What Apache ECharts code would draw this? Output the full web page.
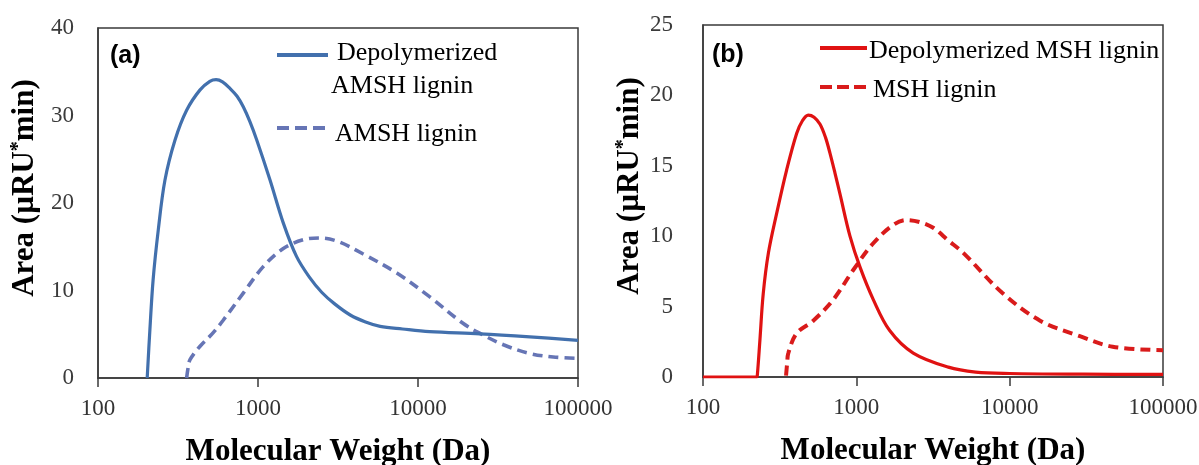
<!DOCTYPE html>
<html>
<head>
<meta charset="utf-8">
<script src="https://cdn.jsdelivr.net/npm/echarts@6/dist/echarts.min.js"></script>
<style>
  html, body { margin: 0; padding: 0; background: #fff; }
  #chart { width: 1199px; height: 465px; }
</style>
</head>
<body>
<div id="chart"></div>
<script>
// ---- Data ----
var xTickLabels = ['100', '1000', '10000', '100000'];
var yTicksA = [0, 10, 20, 30, 40];
var yTicksB = [0, 5, 10, 15, 20, 25];

// Panel (a): [molecular weight (Da), area]
var depolyAMSH = [
  [203, 0], [211, 5.5], [221, 11.2], [238, 16.9], [262, 22.6], [303, 27.2],
  [358, 30.6], [433, 32.9], [500, 33.9], [547, 34.1], [600, 33.85], [668, 33.1],
  [740, 32.2], [809, 31.0], [890, 29.3], [982, 27.2], [1190, 22.6], [1440, 17.7],
  [1740, 13.9], [2100, 11.5], [2500, 9.8], [3000, 8.5], [3770, 7.2], [4700, 6.4],
  [5800, 5.9], [8000, 5.6], [11800, 5.3], [24400, 5.05], [50000, 4.7], [100000, 4.3]
];
var amsh = [
  [358, 0], [366, 1.2], [376, 2.1], [433, 3.6], [520, 5.1], [606, 6.6], [809, 9.7],
  [1075, 12.7], [1440, 14.8], [1920, 15.8], [2440, 16.0], [3160, 15.6], [4520, 14.2],
  [7370, 12.0], [11800, 9.3], [19100, 6.25], [24400, 5.1], [34200, 3.8],
  [50000, 2.8], [70000, 2.4], [100000, 2.25]
];

// Panel (b)
var depolyMSH = [
  [100, 0], [224, 0], [226, 0.1], [235, 2.6], [247, 5.9], [267, 8.8], [302, 11.6],
  [351, 14.7], [408, 17.3], [445, 18.2], [486, 18.6], [530, 18.45], [580, 17.95],
  [630, 17.0], [673, 15.9], [725, 14.5], [782, 13.0], [909, 10.0], [1057, 7.8],
  [1290, 5.5], [1650, 3.3], [2350, 1.7], [3980, 0.7], [6000, 0.35], [10000, 0.25],
  [30000, 0.2], [100000, 0.18]
];
var msh = [
  [348, 0.1], [354, 1.0], [360, 1.7], [408, 3.1], [524, 4.0], [708, 5.5], [955, 7.6],
  [1290, 9.5], [1740, 10.8], [2120, 11.15], [2600, 11.0], [3170, 10.6], [3980, 9.7],
  [5000, 8.8], [8900, 6.0], [15800, 4.0], [28700, 2.9], [47000, 2.15], [100000, 1.9]
];

var seriesNames = ['Depolymerized AMSH lignin', 'AMSH lignin', 'Depolymerized MSH lignin', 'MSH lignin'];

// ---- Styles ----
var SERIF = '"Liberation Serif", "Times New Roman", serif';
var blueSolid = '#4270ad';
var blueDash = '#6675b5';
var redSolid = '#e01212';
var redDash = '#d91b1b';

function xAxisCfg(gridIndex) {
  return {
    type: 'log', logBase: 10, min: 100, max: 100000, gridIndex: gridIndex,
    axisLine: { show: true, lineStyle: { color: '#3a3a3a', width: 1.5 } },
    axisTick: { show: true, inside: false, length: 9, lineStyle: { color: '#3a3a3a', width: 1.5 } },
    minorTick: { show: false },
    splitLine: { show: false },
    axisLabel: {
      margin: 19, fontFamily: SERIF, fontSize: 23, color: '#333',
      formatter: function (v) {
        var i = Math.round(Math.log10(v)) - 2;
        return xTickLabels[i] !== undefined ? xTickLabels[i] : '';
      }
    },
    name: 'Molecular Weight (Da)', nameLocation: 'middle', nameGap: 58,
    nameTextStyle: { fontFamily: SERIF, fontWeight: 'bold', fontSize: 31, color: '#000' }
  };
}
function yAxisCfg(gridIndex, max, interval, ticks, margin) {
  return {
    type: 'value', min: 0, max: max, interval: interval, gridIndex: gridIndex,
    axisLine: { show: true, lineStyle: { color: '#3a3a3a', width: 1.5 } },
    axisTick: { show: false },
    splitLine: { show: false },
    axisLabel: {
      margin: margin, fontFamily: SERIF, fontSize: 23, color: '#3a3a3a',
      formatter: function (v) { return ticks.indexOf(v) >= 0 ? String(v) : ''; }
    },
    name: '{t|Area (µRU}{s|*}{t|min)}', nameLocation: 'middle', nameGap: 58,
    nameTextStyle: {
      padding: [0, 0, 0, 30],
      rich: {
        t: { fontFamily: SERIF, fontWeight: 'bold', fontSize: 31, color: '#000' },
        s: { fontFamily: SERIF, fontWeight: 'bold', fontSize: 20, color: '#000', verticalAlign: 'top', padding: [0, 0, 10, 0] }
      }
    }
  };
}

function legendLine(x1, x2, y, color, width, dash) {
  return {
    type: 'line', shape: { x1: x1, y1: y, x2: x2, y2: y },
    style: { stroke: color, lineWidth: width, lineDash: dash || null }
  };
}
function legendText(x, y, text) {
  return {
    type: 'text', x: x, y: y,
    style: { text: text, font: '26px ' + SERIF, fill: '#000', textVerticalAlign: 'middle', textAlign: 'left' }
  };
}

var chart = echarts.init(document.getElementById('chart'), null, { renderer: 'canvas' });
chart.setOption({
  backgroundColor: '#fff',
  animation: false,
  grid: [
    { left: 98, top: 28, width: 480, height: 350, show: true, borderColor: '#3a3a3a', borderWidth: 1.5,
      containLabel: false, outerBoundsMode: 'none' },
    { left: 703, top: 25, width: 460, height: 352, show: true, borderColor: '#3a3a3a', borderWidth: 1.5,
      containLabel: false, outerBoundsMode: 'none' }
  ],
  xAxis: [xAxisCfg(0), xAxisCfg(1)],
  yAxis: [yAxisCfg(0, 40, 10, yTicksA, 24), yAxisCfg(1, 25, 5, yTicksB, 30)],
  series: [
    { name: seriesNames[0], type: 'line', xAxisIndex: 0, yAxisIndex: 0, data: depolyAMSH, showSymbol: false, symbol: 'none',
      smooth: 0.35, lineStyle: { color: blueSolid, width: 3.2 }, z: 3 },
    { name: seriesNames[1], type: 'line', xAxisIndex: 0, yAxisIndex: 0, data: amsh, showSymbol: false, symbol: 'none',
      smooth: 0.35, lineStyle: { color: blueDash, width: 3.6, type: [10, 6] }, z: 2 },
    { name: seriesNames[2], type: 'line', xAxisIndex: 1, yAxisIndex: 1, data: depolyMSH, showSymbol: false, symbol: 'none',
      smooth: 0.35, lineStyle: { color: redSolid, width: 3.2 }, z: 3 },
    { name: seriesNames[3], type: 'line', xAxisIndex: 1, yAxisIndex: 1, data: msh, showSymbol: false, symbol: 'none',
      smooth: 0.35, lineStyle: { color: redDash, width: 4, type: [10, 6] }, z: 2 }
  ],
  graphic: [
    { type: 'text', x: 110, y: 56, style: { text: '(a)', font: 'bold 25px "Liberation Sans", Arial, sans-serif', fill: '#000', textVerticalAlign: 'middle' } },
    { type: 'text', x: 712, y: 55, style: { text: '(b)', font: 'bold 25px "Liberation Sans", Arial, sans-serif', fill: '#000', textVerticalAlign: 'middle' } },
    legendLine(277, 328, 55, blueSolid, 4),
    legendText(337, 53, 'Depolymerized'),
    legendText(331, 86, 'AMSH lignin'),
    legendLine(277, 328, 128, blueDash, 4, [12, 6]),
    legendText(335, 134, 'AMSH lignin'),
    legendLine(820, 867, 48, redSolid, 4),
    legendText(869, 51, 'Depolymerized MSH lignin'),
    legendLine(820, 867, 87, redDash, 4, [12, 5]),
    legendText(873, 90, 'MSH lignin')
  ]
});
</script>
</body>
</html>
